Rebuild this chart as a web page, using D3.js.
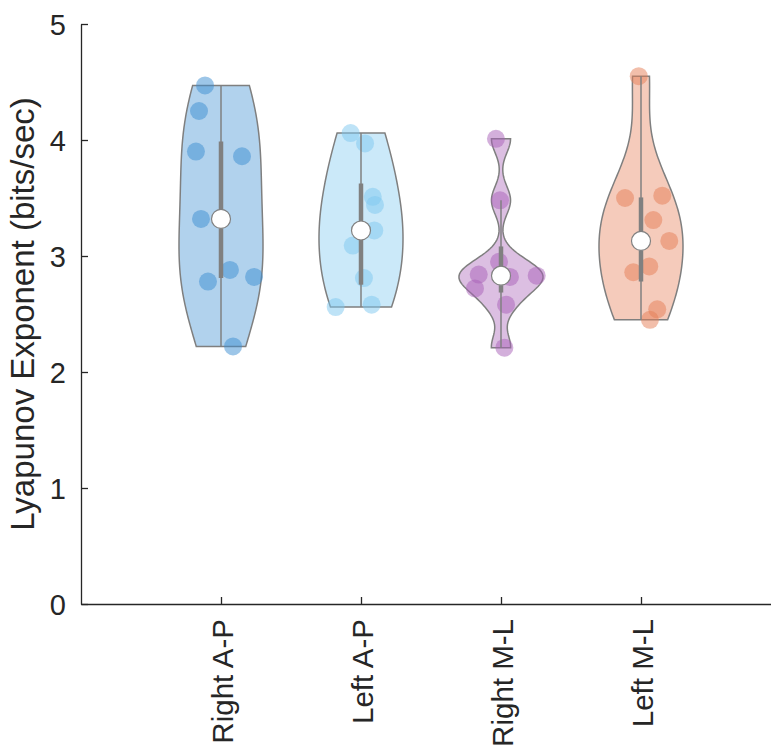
<!DOCTYPE html>
<html>
<head>
<meta charset="utf-8">
<script src="https://cdn.jsdelivr.net/npm/d3@7"></script>
<style>
    body { margin: 0; background: #fff; }
    text { font-family: "Liberation Sans", Arial, Helvetica, sans-serif; fill: #262626; }
</style>
</head>
<body>
<div id="wrapper"></div>
<script>

// groups on the x axis
var categories = ['Right A-P', 'Left A-P', 'Right M-L', 'Left M-L'];

// per-subject values (bits/sec)
var rightAP = [4.47, 4.25, 3.90, 3.86, 3.32, 2.88, 2.78, 2.82, 2.22];
var leftAP = [4.06, 3.97, 3.51, 3.44, 3.22, 3.09, 2.81, 2.56, 2.58];
var rightML = [4.01, 3.48, 2.95, 2.84, 2.82, 2.83, 2.72, 2.58, 2.21];
var leftML = [4.55, 3.50, 3.52, 3.31, 3.13, 2.91, 2.86, 2.54, 2.45];

// horizontal jitter of each dot, in category units
var rightAPJitter = [-0.114, -0.157, -0.179, 0.150, -0.143, 0.064, -0.093, 0.236, 0.086];
var leftAPJitter = [-0.074, 0.029, 0.084, 0.100, 0.095, -0.059, 0.021, -0.181, 0.076];
var rightMLJitter = [-0.036, -0.007, -0.014, -0.159, 0.064, 0.255, -0.186, 0.036, 0.024];
var leftMLJitter = [-0.016, -0.114, 0.152, 0.088, 0.202, 0.059, -0.055, 0.116, 0.064];

var groupColors = ['rgb(60,142,210)', 'rgb(125,200,240)', 'rgb(167,95,183)', 'rgb(230,125,85)'];

var yTicks = [0, 1, 2, 3, 4, 5];

var groups = categories.map(function(c, i) {
    return {
        name: c,
        pos: i + 1,
        values: [rightAP, leftAP, rightML, leftML][i],
        jitter: [rightAPJitter, leftAPJitter, rightMLJitter, leftMLJitter][i],
        color: groupColors[i]
    };
});

var width = 771, height = 747;
var margin = { top: 24, left: 81, bottom: 143 };
var violinWidth = 0.3;

var x = d3.scaleLinear().domain([0, 5]).range([margin.left, margin.left + 700]);
var y = d3.scaleLinear().domain([0, 5]).range([height - margin.bottom, margin.top]);

// matlab style quantile
function mquantile(sorted, p) {
    var n = sorted.length;
    var pos = p * n + 0.5;
    if (pos <= 1) return sorted[0];
    if (pos >= n) return sorted[n - 1];
    var lo = Math.floor(pos);
    return sorted[lo - 1] + (pos - lo) * (sorted[lo] - sorted[lo - 1]);
}

// gaussian kde, silverman bandwidth on the MAD like ksdensity
function kde(values) {
    var n = values.length;
    var med = d3.median(values);
    var mad = d3.median(values.map(function(v) { return Math.abs(v - med); }));
    var sig = mad / 0.6745;
    var bw = sig * Math.pow(4 / (3 * n), 1 / 5);
    var lo = d3.min(values), hi = d3.max(values);
    var pts = d3.range(100).map(function(k) {
        var v = lo + (hi - lo) * k / 99;
        var dens = d3.sum(values, function(d) {
            var u = (v - d) / bw;
            return Math.exp(-0.5 * u * u);
        }) / (n * bw * Math.sqrt(2 * Math.PI));
        return [v, dens];
    });
    var maxD = d3.max(pts, function(p) { return p[1]; });
    pts.forEach(function(p) { p[1] = violinWidth * p[1] / maxD; });
    return pts;
}

var svg = d3.select('#wrapper').append('svg')
    .attr('width', width)
    .attr('height', height);

var plot = svg.append('g');

groups.forEach(function(g) {
    var sorted = g.values.slice().sort(d3.ascending);
    var dens = kde(g.values);

    // closed outline: right side up, left side down
    var outline = dens.map(function(d) { return [x(g.pos + d[1]), y(d[0])]; })
        .concat(dens.slice().reverse().map(function(d) { return [x(g.pos - d[1]), y(d[0])]; }));

    plot.append('path')
        .attr('d', d3.line()(outline) + 'Z')
        .attr('fill', g.color)
        .attr('fill-opacity', 0.4)
        .attr('stroke', '#7f7f7f')
        .attr('stroke-width', 1.5);

    plot.selectAll(null)
        .data(g.values)
        .enter().append('circle')
        .attr('cx', function(d, i) { return x(g.pos + g.jitter[i]); })
        .attr('cy', function(d) { return y(d); })
        .attr('r', 9)
        .attr('fill', g.color)
        .attr('fill-opacity', 0.5);

    var q1 = mquantile(sorted, 0.25),
        q3 = mquantile(sorted, 0.75),
        iqr = q3 - q1;
    var lowW = d3.min(sorted.filter(function(v) { return v > q1 - 1.5 * iqr; }));
    var hiW = d3.max(sorted.filter(function(v) { return v < q3 + 1.5 * iqr; }));
    var med = d3.median(sorted);

    plot.append('line')
        .attr('x1', x(g.pos)).attr('x2', x(g.pos))
        .attr('y1', y(lowW)).attr('y2', y(hiW))
        .attr('stroke', '#808080')
        .attr('stroke-width', 1.5);

    plot.append('line')
        .attr('x1', x(g.pos)).attr('x2', x(g.pos))
        .attr('y1', y(q1)).attr('y2', y(q3))
        .attr('stroke', '#808080')
        .attr('stroke-width', 4.5);

    plot.append('circle')
        .attr('cx', x(g.pos))
        .attr('cy', y(med))
        .attr('r', 9.5)
        .attr('fill', '#fff')
        .attr('stroke', '#808080')
        .attr('stroke-width', 1.2);
});

// axes, ticks pointing inward like matlab
var yAxis = d3.axisRight(y)
    .tickValues(yTicks)
    .tickSize(7)
    .tickSizeOuter(0)
    .tickFormat(d3.format('d'));

var gy = svg.append('g')
    .attr('transform', 'translate(' + margin.left + ',0)')
    .call(yAxis);
gy.select('.domain').attr('stroke', '#262626').attr('stroke-width', 1.3);
gy.selectAll('.tick line').attr('stroke', '#262626').attr('stroke-width', 1.3);
gy.selectAll('.tick text')
    .attr('x', -15)
    .attr('dy', '0.36em')
    .attr('text-anchor', 'end')
    .style('font-size', '29px')
    .style('fill', '#262626');

var xAxis = d3.axisTop(x)
    .tickValues(d3.range(1, 5))
    .tickSize(7)
    .tickSizeOuter(0)
    .tickFormat(function(d) { return categories[d - 1]; });

var gx = svg.append('g')
    .attr('transform', 'translate(0,' + y(0) + ')')
    .call(xAxis);
gx.select('.domain').attr('stroke', '#262626').attr('stroke-width', 1.3);
gx.selectAll('.tick text')
    .attr('transform', 'translate(11,15) rotate(-90)')
    .attr('x', 0)
    .attr('y', 0)
    .attr('dy', 0)
    .attr('text-anchor', 'end')
    .style('font-size', '29.5px')
    .style('fill', '#262626');
gx.selectAll('.tick line').attr('stroke', '#262626').attr('stroke-width', 1.3);

svg.append('text')
    .attr('transform', 'translate(34,' + (y(2.5)) + ') rotate(-90)')
    .attr('text-anchor', 'middle')
    .style('font-size', '33px')
    .text('Lyapunov Exponent (bits/sec)');

</script>
</body>
</html>
